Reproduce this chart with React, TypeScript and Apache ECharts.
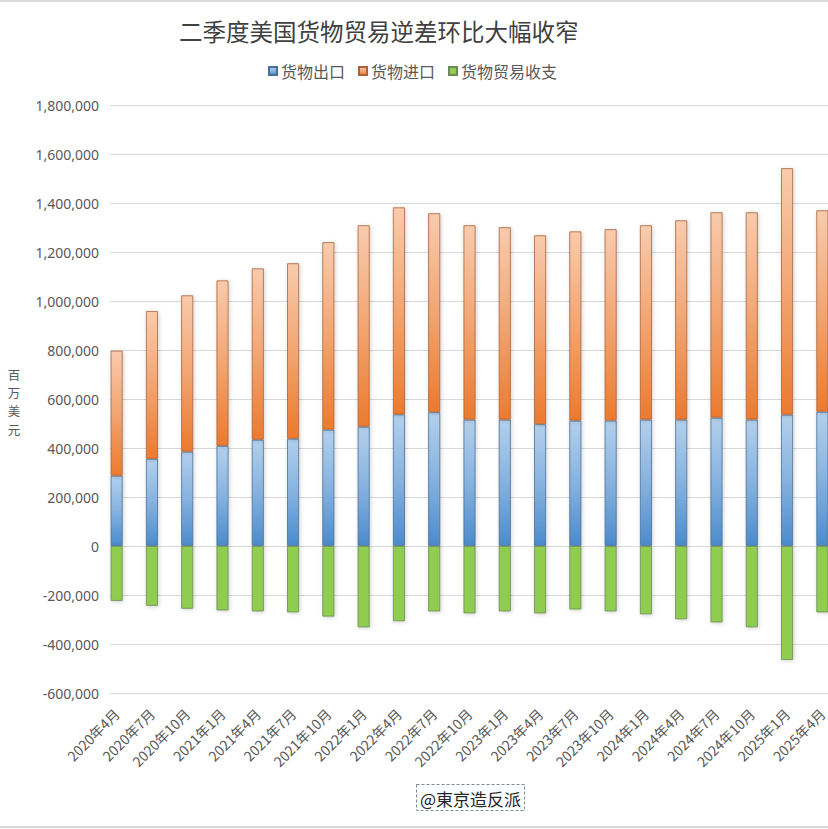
import React, { useEffect, useRef } from "react";
import * as echarts from "echarts";

const categories = [
  "2020年4月", "2020年7月", "2020年10月", "2021年1月", "2021年4月", "2021年7月", "2021年10月",
  "2022年1月", "2022年4月", "2022年7月", "2022年10月", "2023年1月", "2023年4月", "2023年7月",
  "2023年10月", "2024年1月", "2024年4月", "2024年7月", "2024年10月", "2025年1月", "2025年4月",
];

// 百万美元
const goodsExports = [
  287000, 356000, 385000, 409000, 434000, 438000, 475000, 487000, 537000, 546000, 516000,
  516000, 497000, 512000, 512000, 516000, 516000, 524000, 516000, 536000, 548000,
];
const goodsImports = [
  510000, 603000, 638000, 675000, 699000, 716000, 765000, 822000, 845000, 812000, 793000,
  785000, 771000, 772000, 781000, 793000, 813000, 838000, 846000, 1006000, 822000,
];
const goodsBalance = [
  -224000, -244000, -256000, -263000, -267000, -271000, -288000, -332000, -307000, -267000, -275000,
  -267000, -275000, -259000, -267000, -279000, -299000, -312000, -332000, -465000, -271000,
];

const seriesNames = ["货物出口", "货物进口", "货物贸易收支"];
const yAxisNameChars = ["百", "万", "美", "元"];
const yMin = -600000;
const yMax = 1800000;
const yStep = 200000;

const FONT = "'Noto Sans CJK SC', 'Noto Sans', sans-serif";

function fmt(v: number) {
  return v.toLocaleString("en-US");
}

export default function App() {
  const ref = useRef<HTMLDivElement>(null);
  useEffect(() => {
    if (!ref.current) return;
    const chart = echarts.init(ref.current, undefined, { renderer: "svg" });
    const shadow = {
      shadowBlur: 4,
      shadowColor: "rgba(0,0,0,0.18)",
      shadowOffsetX: 1,
      shadowOffsetY: 1,
    };
    chart.setOption({
      animation: false,
      backgroundColor: "#ffffff",
      textStyle: { fontFamily: FONT },
      title: {
        text: "二季度美国货物贸易逆差环比大幅收窄",
        left: 174,
        top: 14,
        textStyle: { fontFamily: FONT, fontSize: 23.5, fontWeight: "normal", color: "#404040" },
      },
      legend: {
        data: seriesNames,
        left: 263,
        top: 58,
        icon: "rect",
        itemWidth: 8,
        itemHeight: 8,
        itemGap: 13,
        textStyle: { fontFamily: FONT, fontSize: 16, color: "#595959", padding: [0, 0, 0, -1] },
      },
      grid: [
        { left: 99, width: 741, top: 105, height: 588 },
        { left: 110, right: 0, top: 105, height: 588 },
      ],
      xAxis: [
        {
          type: "category",
          gridIndex: 0,
          data: categories,
          position: "bottom",
          axisLine: { show: false, onZero: false },
          axisTick: { show: false },
          axisLabel: {
            interval: 0,
            rotate: 45,
            margin: 18,
            fontFamily: FONT,
            fontSize: 14,
            color: "#595959",
          },
        },
        { type: "value", gridIndex: 1, show: false, min: 0, max: 1 },
      ],
      yAxis: [
        { type: "value", gridIndex: 0, min: yMin, max: yMax, interval: yStep, show: false },
        {
          type: "value",
          gridIndex: 1,
          min: yMin,
          max: yMax,
          interval: yStep,
          axisLine: { show: false },
          axisTick: { show: false },
          splitLine: { lineStyle: { color: "#d9d9d9", width: 1 } },
          axisLabel: {
            margin: 11,
            fontFamily: "'Noto Sans', sans-serif",
            fontSize: 14,
            color: "#595959",
            formatter: (v: number) => fmt(v),
          },
        },
      ],
      series: [
        {
          name: seriesNames[0],
          type: "bar",
          stack: "total",
          barWidth: 12,
          xAxisIndex: 0,
          yAxisIndex: 0,
          data: goodsExports,
          itemStyle: {
            color: new echarts.graphic.LinearGradient(0, 0, 0, 1, [
              { offset: 0, color: "#b3d0ec" },
              { offset: 0.5, color: "#86b2df" },
              { offset: 1, color: "#4b8bcc" },
            ]),
            borderColor: "#4a6e94",
            borderWidth: 0.8,
            ...shadow,
          },
        },
        {
          name: seriesNames[1],
          type: "bar",
          stack: "total",
          barWidth: 12,
          xAxisIndex: 0,
          yAxisIndex: 0,
          data: goodsImports,
          itemStyle: {
            color: new echarts.graphic.LinearGradient(0, 0, 0, 1, [
              { offset: 0, color: "#f8cbad" },
              { offset: 0.5, color: "#f2a572" },
              { offset: 1, color: "#eb7a2e" },
            ]),
            borderColor: "#a8633a",
            borderWidth: 0.8,
            ...shadow,
          },
        },
        {
          name: seriesNames[2],
          type: "bar",
          stack: "total",
          barWidth: 12,
          xAxisIndex: 0,
          yAxisIndex: 0,
          data: goodsBalance,
          itemStyle: {
            color: "#8fcc4f",
            borderColor: "#6b8a55",
            borderWidth: 0.8,
            ...shadow,
          },
        },
      ],
      graphic: [
        {
          type: "line",
          shape: { x1: 0, y1: 1, x2: 900, y2: 1 },
          style: { stroke: "#d9d9d9", lineWidth: 2 },
        },
        {
          type: "line",
          shape: { x1: 0, y1: 827, x2: 900, y2: 827 },
          style: { stroke: "#d9d9d9", lineWidth: 2 },
        },
        ...yAxisNameChars.map((ch, i) => ({
          type: "text",
          x: 14,
          y: 374 + i * 18.4,
          style: {
            text: ch,
            fontFamily: FONT,
            fontSize: 12.5,
            lineHeight: 13,
            fill: "#595959",
            align: "center",
            verticalAlign: "middle",
          },
        })),
        {
          type: "rect",
          shape: { x: 416.5, y: 784.5, width: 108, height: 26 },
          style: { fill: "#fbfdfe", stroke: "#7f8a94", lineWidth: 1, lineDash: [3, 2] },
        },
        {
          type: "text",
          x: 470.5,
          y: 798,
          style: {
            text: "@東京造反派",
            fontFamily: FONT,
            fontSize: 17,
            fill: "#262626",
            align: "center",
            verticalAlign: "middle",
          },
        },
      ],
    });
    return () => chart.dispose();
  }, []);
  return (
    <div
      style={{
        position: "fixed",
        left: 0,
        top: 0,
        width: 828,
        height: 829,
        overflow: "hidden",
        background: "#fff",
      }}
    >
      <div ref={ref} style={{ width: 860, height: 829 }} />
    </div>
  );
}
